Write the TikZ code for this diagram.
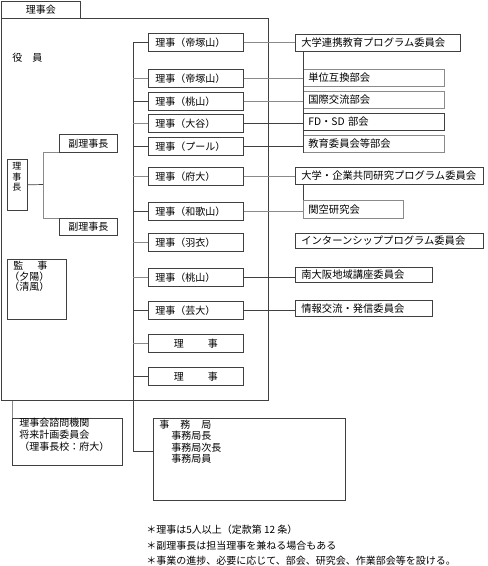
\documentclass[tikz,border=0pt]{standalone}
\usepackage{fontspec}
\setmainfont{Noto Sans CJK JP}
\definecolor{lc}{HTML}{404040}
\definecolor{lg}{HTML}{8A8A8A}
\newcommand\fsn{\fontsize{10}{11}\selectfont}
\newcommand\fsc{\fontsize{10.3}{11}\selectfont}
\begin{document}
\begin{tikzpicture}[x=1pt,y=-1pt,line width=0.7pt,
  frame/.style={draw=lc,anchor=north west,inner sep=0pt},
  dirbox/.style={draw=lc,anchor=north west,minimum width=95pt,minimum height=18pt,
    inner ysep=0pt,inner xsep=7pt,text width=81pt,align=left,font=\fsn},
  combox/.style={draw=lc,anchor=north west,minimum height=17pt,inner ysep=0pt,
    inner xsep=6pt,align=left,font=\fsc},
  subbox/.style={draw=lg,anchor=north west,minimum height=17pt,inner ysep=0pt,
    inner xsep=5pt,align=left,font=\fsc},
  txt/.style={anchor=north west,inner sep=0pt,align=left,font=\fsn},
  conn/.style={draw=lc},
  conng/.style={draw=lg}]
\useasboundingbox (0,0) rectangle (488,566);

% board frame and tab
\node[frame,minimum width=79pt,minimum height=17pt] (tab) at (1,1) {};
\node[anchor=center,inner sep=0pt,font=\fsn] (tabtxt) at (41,10) {理事会};
\node[frame,minimum width=267pt,minimum height=382pt] (board) at (1,18) {};
\node[anchor=west,inner sep=0pt,font=\fsn] (yakuin) at (12,58) {役\hspace{10pt}員};

% chairman
\node[frame,minimum width=20pt,minimum height=51pt] (chair) at (7,159) {};
\node[anchor=center,inner sep=0pt,align=center,font=\fontsize{9}{10.5}\selectfont] (chairtxt) at (17,177) {理\\事\\長};
\node[frame,minimum width=58pt,minimum height=18pt,font=\fsn] (vc1) at (59,134) {副理事長};
\node[frame,minimum width=58pt,minimum height=17pt,font=\fsn] (vc2) at (59,218) {副理事長};
\coordinate (fk) at (43,184.5);
\draw[conn] (chair.east) -- (fk);
\draw[conng] (vc1.south west) -- (vc1.south west -| fk) -- (vc2.north west -| fk) -- (vc2.north west);

% auditors
\node[frame,minimum width=59pt,minimum height=60pt] (aud) at (7,259) {};
\node[txt,font=\fontsize{10}{10.5}\selectfont] (audtxt) at (9,261) {\hspace{4pt}監\hspace{14pt}事\\（夕陽）\\（清風）};

% directors
\node[dirbox] (d1) at (148,33) {理事（帝塚山）};
\node[dirbox] (d2) at (148,69) {理事（帝塚山）};
\node[dirbox] (d3) at (148,92) {理事（桃山）};
\node[dirbox] (d4) at (148,114) {理事（大谷）};
\node[dirbox] (d5) at (148,137) {理事（プール）};
\node[dirbox] (d6) at (148,167) {理事（府大）};
\node[dirbox] (d7) at (148,202) {理事（和歌山）};
\node[dirbox] (d8) at (148,233) {理事（羽衣）};
\node[dirbox] (d9) at (148,268) {理事（桃山）};
\node[dirbox] (d10) at (148,301) {理事（芸大）};
\node[dirbox,align=center] (d11) at (148,334) {理\hspace{24pt}事};
\node[dirbox,align=center] (d12) at (148,367) {理\hspace{24pt}事};

% secretariat
\node[frame,minimum width=192pt,minimum height=82pt] (office) at (153,418) {};
\node[txt,font=\fontsize{10}{11.2}\selectfont] (officetxt) at (159,420) {事\hspace{11pt}務\hspace{11pt}局\\\hspace{12pt}事務局長\\\hspace{12pt}事務局次長\\\hspace{12pt}事務局員};

% bus
\coordinate (busend) at (133,451);
\draw[conn] (d1.west -| busend) -- (busend) -- (busend -| office.west);
\foreach \d in {d1,d3,d5,d7,d10,d12}{\draw[conn] (\d.west -| busend) -- (\d.west);}
\foreach \d in {d2,d4,d6,d8,d9,d11}{\draw[conng] (\d.west -| busend) -- (\d.west);}

% advisory body
\node[frame,minimum width=110pt,minimum height=47pt] (adv) at (12,418) {};
\draw[conng] (adv.north west |- board.south) -- (adv.north west);
\node[txt,font=\fontsize{10}{11.8}\selectfont] (advtxt) at (19,418) {理事会諮問機関\\将来計画委員会\\（理事長校：府大）};

% committees
\node[combox,minimum width=165pt,text width=153pt] (cA) at (295,34) {大学連携教育プログラム委員会};
\node[subbox,minimum width=141pt,text width=131pt] (cB) at (303,69) {単位互換部会};
\node[subbox,minimum width=141pt,text width=131pt] (cC) at (303,91) {国際交流部会};
\node[subbox,minimum width=141pt,text width=131pt,draw=lc] (cD) at (303,113) {FD・SD 部会};
\node[subbox,minimum width=141pt,text width=131pt] (cE) at (303,135) {教育委員会等部会};
\draw[conn] (cB.north west |- cA.south) -- (cE.south west);

\node[combox,minimum width=188pt,text width=176pt] (cF) at (295,167) {大学・企業共同研究プログラム委員会};
\node[subbox,minimum width=100pt,text width=90pt,minimum height=18pt] (cG) at (303,200) {関空研究会};
\draw[conn] (cG.north west |- cF.south) -- (cG.north west);

\node[combox,minimum width=188pt,text width=176pt,minimum height=15pt] (cH) at (295,233) {インターンシッププログラム委員会};
\node[combox,minimum width=137pt,text width=125pt,minimum height=15pt] (cI) at (295,267) {南大阪地域講座委員会};
\node[combox,minimum width=137pt,text width=125pt,minimum height=16pt] (cJ) at (295,300) {情報交流・発信委員会};

\draw[conng] (d1.east) -- (d1.east -| cA.west);
\draw[conng] (d2.east) -- (d2.east -| cB.west);
\draw[conng] (d3.east) -- (d3.east -| cC.west);
\draw[conn] (d4.east) -- (d4.east -| cD.west);
\draw[conn] (d5.east) -- (d5.east -| cE.west);
\draw[conng] (d6.east) -- (d6.east -| cF.west);
\draw[conng] (d7.east) -- (d7.east -| cG.west);
\draw[conn] (d9.east) -- (d9.east -| cI.west);
\draw[conn] (d10.east) -- (d10.east -| cJ.west);

% notes
\node[anchor=west,inner sep=0pt,font=\fsn] (n1) at (146,530) {＊理事は5人以上（定款第 12 条）};
\node[anchor=west,inner sep=0pt,font=\fsn] (n2) at (146,546) {＊副理事長は担当理事を兼ねる場合もある};
\node[anchor=west,inner sep=0pt,font=\fsn] (n3) at (146,561) {＊事業の進捗、必要に応じて、部会、研究会、作業部会等を設ける。};
\end{tikzpicture}
\end{document}
